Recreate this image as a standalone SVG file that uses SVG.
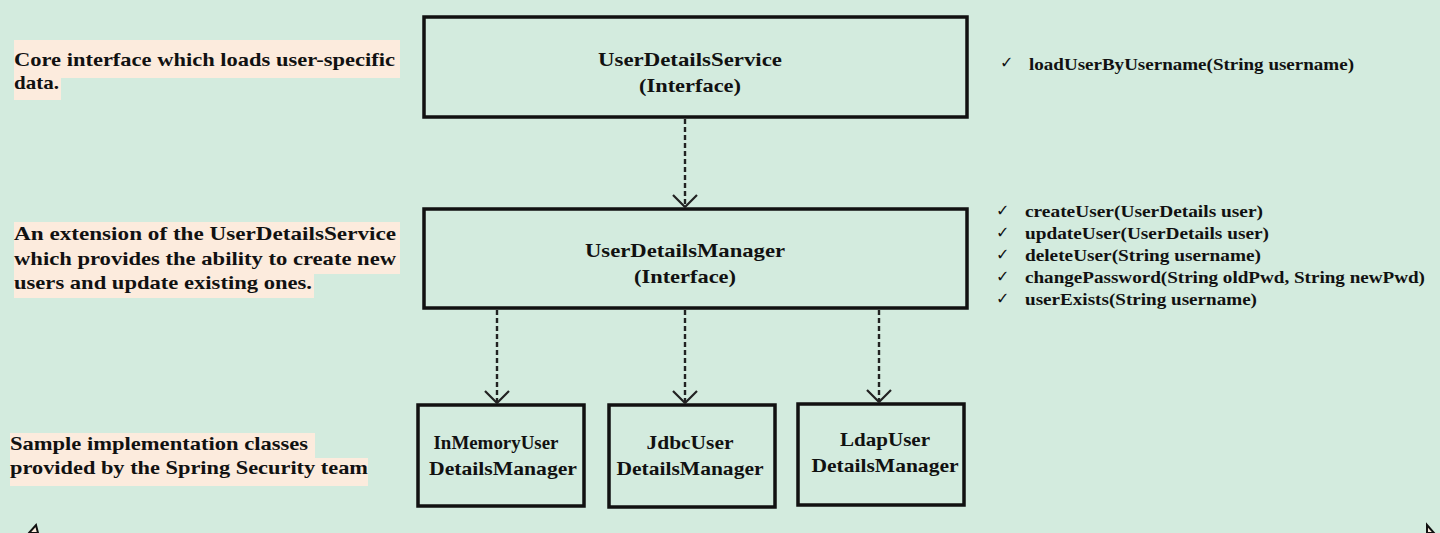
<svg xmlns="http://www.w3.org/2000/svg" width="1440" height="533" viewBox="0 0 1440 533">
<defs>
<style>
.bg{fill:#d3ebde}
.box{fill:#d3ebde;stroke:#111;stroke-width:3.5}
.t{font-family:"Liberation Serif","DejaVu Serif",serif;font-weight:bold;fill:#111}
.n{font-size:19px;text-anchor:middle}
.d{font-size:19px}
.m{font-size:17px}
.hl{fill:#fcebdd}
.conn{stroke:#222;stroke-width:2.4;stroke-dasharray:5 3;fill:none}
.chk{font-family:"DejaVu Sans",sans-serif;font-size:16px;fill:#111}
</style>
<marker id="arr" viewBox="0 0 14 26" refX="13" refY="13" markerWidth="14" markerHeight="26" markerUnits="userSpaceOnUse" orient="auto">
<path d="M1,1 L13,13 L1,25" fill="none" stroke="#222" stroke-width="2.2"/>
</marker>
</defs>
<rect class="bg" x="0" y="0" width="1440" height="533"/>

<g id="desc-service">
<rect class="hl" x="14" y="40" width="386" height="38"/>
<rect class="hl" x="14" y="78" width="47" height="22"/>
<text class="t d" x="14" y="66" textLength="381" lengthAdjust="spacingAndGlyphs">Core interface which loads user-specific</text>
<text class="t d" x="14" y="89" textLength="45" lengthAdjust="spacingAndGlyphs">data.</text>
</g>

<g id="desc-manager">
<rect class="hl" x="14" y="222" width="386" height="52"/>
<rect class="hl" x="14" y="274" width="300" height="24"/>
<text class="t d" x="14" y="240" textLength="382" lengthAdjust="spacingAndGlyphs">An extension of  the UserDetailsService</text>
<text class="t d" x="14" y="265" textLength="382" lengthAdjust="spacingAndGlyphs">which provides the ability to create new</text>
<text class="t d" x="14" y="289" textLength="298" lengthAdjust="spacingAndGlyphs">users and update existing ones.</text>
</g>

<g id="desc-impl">
<rect class="hl" x="10" y="433" width="305" height="25"/>
<rect class="hl" x="10" y="458" width="358" height="28"/>
<text class="t d" x="10" y="450" textLength="298" lengthAdjust="spacingAndGlyphs">Sample implementation classes</text>
<text class="t d" x="10" y="474" textLength="358" lengthAdjust="spacingAndGlyphs">provided by the Spring Security team</text>
</g>

<g id="methods-service">
<text class="chk" x="1000" y="68">✓</text>
<text class="t m" x="1029" y="70" textLength="325" lengthAdjust="spacingAndGlyphs">loadUserByUsername(String username)</text>
</g>

<g id="methods-manager">
<text class="chk" x="996" y="216">✓</text>
<text class="chk" x="996" y="238">✓</text>
<text class="chk" x="996" y="260">✓</text>
<text class="chk" x="996" y="282">✓</text>
<text class="chk" x="996" y="304">✓</text>
<text class="t m" x="1025" y="217" textLength="238" lengthAdjust="spacingAndGlyphs">createUser(UserDetails user)</text>
<text class="t m" x="1025" y="239" textLength="244" lengthAdjust="spacingAndGlyphs">updateUser(UserDetails user)</text>
<text class="t m" x="1025" y="261" textLength="236" lengthAdjust="spacingAndGlyphs">deleteUser(String username)</text>
<text class="t m" x="1025" y="283" textLength="400" lengthAdjust="spacingAndGlyphs">changePassword(String oldPwd, String newPwd)</text>
<text class="t m" x="1025" y="305" textLength="232" lengthAdjust="spacingAndGlyphs">userExists(String username)</text>
</g>

<g id="node-service">
<rect class="box" x="424" y="17" width="543" height="100"/>
<text class="t n" x="690" y="66" textLength="184" lengthAdjust="spacingAndGlyphs">UserDetailsService</text>
<text class="t n" x="690" y="92" textLength="102" lengthAdjust="spacingAndGlyphs">(Interface)</text>
</g>

<g id="node-manager">
<rect class="box" x="424" y="209" width="543" height="99"/>
<text class="t n" x="685" y="257" textLength="200" lengthAdjust="spacingAndGlyphs">UserDetailsManager</text>
<text class="t n" x="685" y="283" textLength="102" lengthAdjust="spacingAndGlyphs">(Interface)</text>
</g>

<g id="node-inmemory">
<rect class="box" x="418" y="405" width="166" height="101"/>
<text class="t n" x="496" y="449" textLength="125" lengthAdjust="spacingAndGlyphs">InMemoryUser</text>
<text class="t n" x="503" y="475" textLength="148" lengthAdjust="spacingAndGlyphs">DetailsManager</text>
</g>

<g id="node-jdbc">
<rect class="box" x="609" y="405" width="166" height="102"/>
<text class="t n" x="690" y="449" textLength="87" lengthAdjust="spacingAndGlyphs">JdbcUser</text>
<text class="t n" x="690" y="475" textLength="147" lengthAdjust="spacingAndGlyphs">DetailsManager</text>
</g>

<g id="node-ldap">
<rect class="box" x="798" y="404" width="166" height="101"/>
<text class="t n" x="885" y="446" textLength="90" lengthAdjust="spacingAndGlyphs">LdapUser</text>
<text class="t n" x="885" y="472" textLength="147" lengthAdjust="spacingAndGlyphs">DetailsManager</text>
</g>

<g id="connectors">
<line class="conn" x1="685" y1="119" x2="685" y2="207" marker-end="url(#arr)"/>
<line class="conn" x1="497" y1="310" x2="497" y2="403" marker-end="url(#arr)"/>
<line class="conn" x1="685" y1="310" x2="685" y2="403" marker-end="url(#arr)"/>
<line class="conn" x1="879" y1="310" x2="879" y2="402" marker-end="url(#arr)"/>
</g>

<g id="corner-marks">
<path d="M29,533 L36,525 L38,533 Z" fill="#fcebdd" stroke="#111" stroke-width="2"/>
<path d="M1427,533 L1427,525 L1434,533 Z" fill="#fcebdd" stroke="#111" stroke-width="2"/>
</g>
</svg>
